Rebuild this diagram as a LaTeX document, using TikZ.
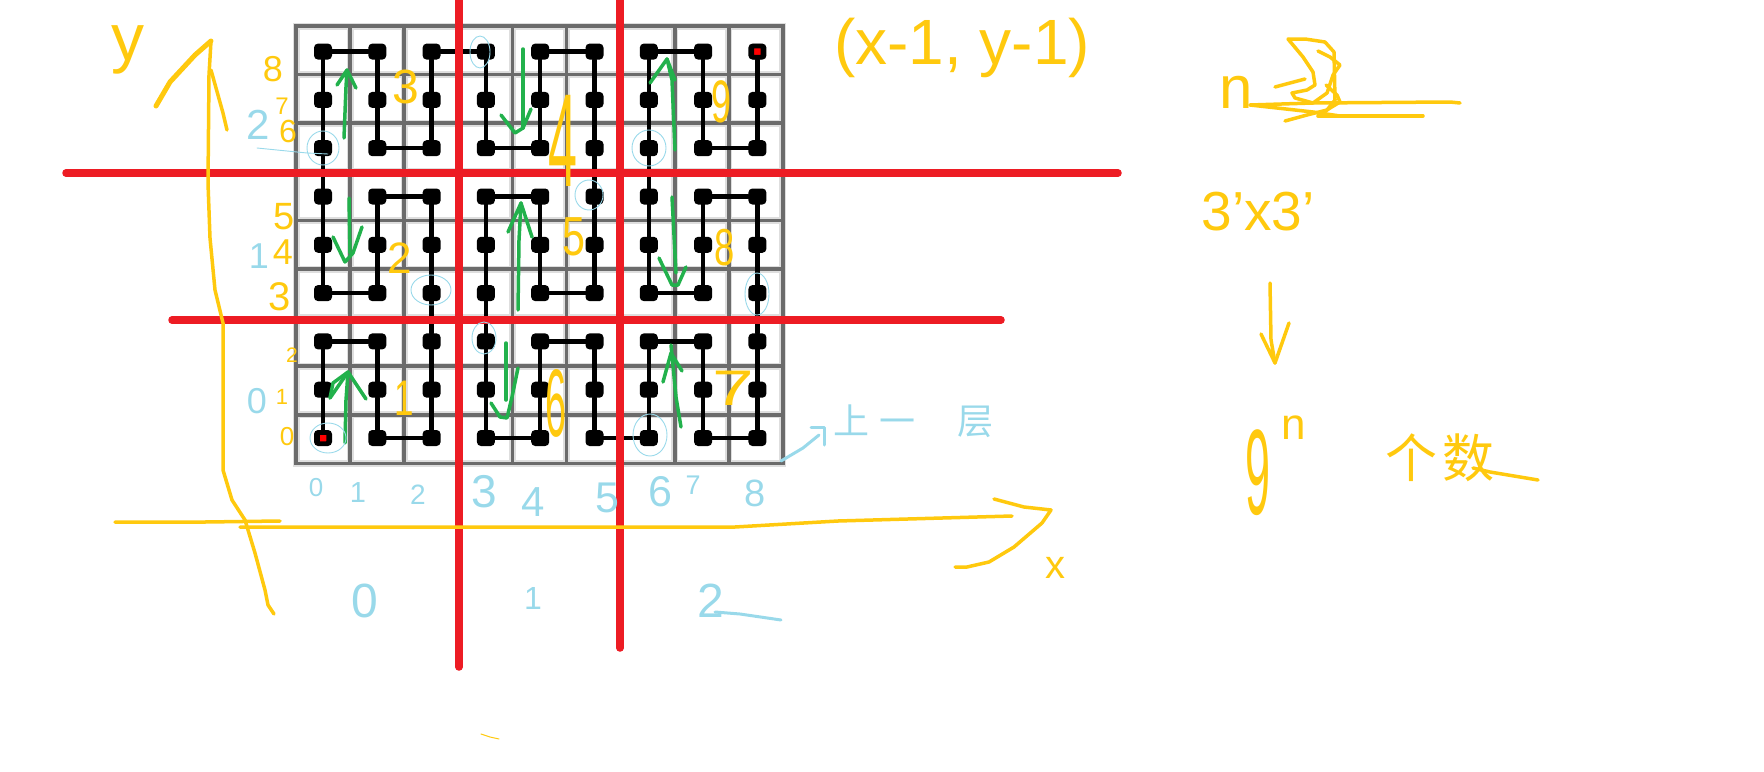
\documentclass[tikz,border=0pt]{standalone}
\usepackage{xcolor}
\usepackage{fontspec}
\usepackage{tikz}
\setmainfont{Liberation Sans}
\newfontfamily\cjkink{Noto Sans CJK SC}
\newcommand{\inksize}[1]{\fontsize{#1}{#1}\selectfont}
\definecolor{inkyellow}{HTML}{FFC90E}
\definecolor{inkred}{HTML}{ED1C24}
\definecolor{inkgreen}{HTML}{22B14C}
\definecolor{inkblue}{HTML}{99D9EA}

\begin{document}
\begin{tikzpicture}[
    x=1pt, y=-1pt,
    line join=round, line cap=round,
    gridhalo/.style={line width=7pt, color=black!13, line cap=butt},
    gridline/.style={line width=3.6pt, color=black!58, line cap=butt},
    curve/.style={line width=4.5pt, color=black},
    dot/.style={rectangle, rounded corners=4pt, fill=black, minimum width=18pt,
                minimum height=16pt, inner sep=0pt},
    enddot/.style={rectangle, rounded corners=2pt, draw=black, line width=4.5pt, fill=red,
                   minimum size=11pt, inner sep=0pt},
    redline/.style={line width=7.5pt, color=inkred},
    yellowpen/.style={line width=3.5pt, color=inkyellow},
    greenpen/.style={line width=3.5pt, color=inkgreen},
    bluepen/.style={line width=3pt, color=inkblue},
    bluethin/.style={line width=0.9pt, color=inkblue},
    yellowtext/.style={text=inkyellow, inner sep=0pt},
    bluetext/.style={text=inkblue, inner sep=0pt}
]
\useasboundingbox (0,0) rectangle (1764,771);

\foreach \i in {0,...,9} {
    \draw[gridhalo] ({296+54.1*\i},26) -- ({296+54.1*\i},464);
    \draw[gridhalo] (293,{26+48.6*\i}) -- (786,{26+48.6*\i});
}
\foreach \i in {0,...,9} {
    \draw[gridline] ({296+54.1*\i},26) -- ({296+54.1*\i},462);
    \draw[gridline] (294,{26+48.6*\i}) -- (785,{26+48.6*\i});
}

\foreach \i in {0,...,8} {
    \foreach \j in {0,...,8} {
        \node[dot] (d\i\j) at ({323+54.3*\i},{438-48.3*\j}) {};
    }
}
\foreach \c [remember=\c as \p (initially 00)] in {01,02,12,11,10,20,21,22,23,24,25,15,14,13,03,04,05,06,07,08,18,17,16,26,27,28,
    38,37,36,46,47,48,58,57,56,55,54,53,43,44,45,35,34,33,32,31,30,40,41,42,52,51,50,60,61,62,72,71,70,80,81,82,
    83,84,85,75,74,73,63,64,65,66,67,68,78,77,76,86,87,88} {
    \draw[curve] (d\p) -- (d\c);
}
\node[enddot] (startdot) at (d00) {};
\node[enddot] (enddot) at (d88) {};

\draw[redline] (66,173) -- (1118,173);
\draw[redline] (172,320) -- (1001,320);
\draw[redline] (459,0) -- (459,667);
\draw[redline] (620,0) -- (620,648);

\draw[yellowpen] (211,41) -- (209,75) -- (208,183) -- (210,238) -- (215,290) -- (223,323) -- (223,470) -- (226,480)
    -- (232,500) -- (245,520) -- (255,553) -- (265,590) -- (268,605) -- (274,614);
\draw[yellowpen] (211,70) -- (223,113) -- (227,130);
\draw[yellowpen, line width=5pt] (211,41) -- (195,55) -- (170,82) -- (156,106);
\draw[yellowpen] (115,522) -- (205,522) -- (280,521);
\draw[yellowpen] (240,527) -- (735,527) -- (838,521) -- (1012,516);
\draw[yellowpen] (994,499) -- (1024,507) -- (1051,510) -- (1042,523) -- (1014,547) -- (989,562) -- (967,567) -- (955,567);

\draw[greenpen] (345,443) -- (346,400) -- (348,372) -- (333,383) -- (330,398);
\draw[greenpen] (330,398) -- (348,372) -- (366,399);
\draw[greenpen] (349,198) -- (350,253);
\draw[greenpen] (333,237) -- (345,262) -- (353,253) -- (362,227);
\draw[greenpen] (344,138) -- (346,87) -- (347,70) -- (337,85);
\draw[greenpen] (347,70) -- (356,88);
\draw[greenpen] (523,49) -- (523,128);
\draw[greenpen] (501,115) -- (515,133) -- (523,128) -- (531,109);
\draw[greenpen] (518,310) -- (519,240) -- (521,203) -- (508,232);
\draw[greenpen] (521,203) -- (532,237);
\draw[greenpen] (506,343) -- (506,400);
\draw[greenpen] (491,403) -- (500,417) -- (507,418) -- (512,397) -- (518,368);
\draw[greenpen] (681,427) -- (676,397) -- (671,345);
\draw[greenpen] (663,382) -- (671,353) -- (682,371);
\draw[greenpen] (672,197) -- (676,273);
\draw[greenpen] (659,258) -- (672,285) -- (678,285) -- (686,267);
\draw[greenpen] (675,150) -- (672,80) -- (667,59) -- (650,83);
\draw[greenpen] (667,59) -- (675,80);

\foreach \x/\y/\rx/\ry in {323/148/16/17, 328/438/18/15, 480/52/10/16, 431/290/20/15,
    484/338/12/16, 649/148/17/18, 589/195/14/15, 757/294/12/21, 650/435/17/21} {
    \draw[bluethin] (\x,\y) ellipse [x radius=\rx pt, y radius=\ry pt];
}
\draw[bluethin] (257,148) -- (307,153) -- (328,154);
\draw[bluepen] (715,612) -- (740,614) -- (781,620);
\draw[bluepen] (781,461) -- (803,448) -- (819,435);
\draw[bluepen] (811,427) -- (824,427) -- (824,445);

\foreach \d/\x/\y/\s in {0/316/488/26, 1/358/493/29, 2/418/495/28, 3/484/492/46, 4/533/502/42,
    5/607/498/43, 6/660/492/43, 7/693/485/27, 8/755/493/38, 0/365/601/48, 1/533/598/32} {
    \node[bluetext, font=\inksize{\s}] (bx\x) at (\x,\y) {\d};
}
\node[bluetext, font=\inksize{48}] (blocktwo) at (711,601) {2};
\node[bluetext, font=\inksize{42}] (lefttwo) at (258,125) {2};
\node[bluetext, font=\inksize{36}] (leftone) at (259,256) {1};
\node[bluetext, font=\inksize{36}] (leftzero) at (257,401) {0};
\node[bluetext, anchor=west, font=\cjkink\inksize{36}] (layer) at (833,421) {上\hspace{10pt}一\hspace{42pt}层};

\foreach \d/\x/\y/\s in {8/273/69/36, 7/282/106/24, 6/288/131/32, 5/284/217/38, 4/283/252/36,
    3/280/297/40, 2/292/355/21, 1/282/397/22, 0/287/437/26} {
    \node[yellowtext, font=\inksize{\s}] (ly\y) at (\x,\y) {\d};
}

\node[yellowtext, font=\inksize{50}, xscale=0.7, transform shape] (blockone) at (404,398) {1};
\node[yellowtext, font=\inksize{44}] (blocktwoy) at (400,258) {2};
\node[yellowtext, font=\inksize{48}] (blockthree) at (406,87) {3};
\node[yellowtext, font=\inksize{52}, yscale=2.55, transform shape] (blockfour) at (563,141) {4};
\node[yellowtext, font=\inksize{55}, xscale=0.75, transform shape] (blockfive) at (574,237) {5};
\node[yellowtext, font=\inksize{40}, xscale=0.95, yscale=2.4, transform shape] (blocksix) at (556,403) {6};
\node[yellowtext, font=\inksize{50}, xscale=1.5, transform shape] (blockseven) at (733,388) {7};
\node[yellowtext, font=\inksize{52}, xscale=0.7, transform shape] (blockeight) at (725,248) {8};
\node[yellowtext, font=\inksize{60}, xscale=0.6, transform shape] (blocknine) at (722,102) {9};

\node[yellowtext, font=\inksize{66}] (yaxis) at (128,50) {y};
\node[yellowtext, font=\inksize{40}] (xaxis) at (1055,568) {x};
\node[yellowtext, font=\inksize{64}] (cell) at (962,48) {(x-1, y-1)};
\node[yellowtext, font=\inksize{60}] (n) at (1236,92) {n};
\node[yellowtext, font=\inksize{55}] (size) at (1258,212) {3'x3'};
\node[yellowtext, font=\inksize{45}, yscale=2.7, transform shape] (nine) at (1258,473) {9};
\node[yellowtext, font=\inksize{44}] (power) at (1294,428) {n};
\node[yellowtext, font=\cjkink\inksize{52}] (count) at (1440,458) {个\hspace{6pt}数};

\draw[yellowpen] (1250,105) -- (1313,103) -- (1450,102) -- (1460,103);
\draw[yellowpen] (1318,116) -- (1423,116);
\draw[yellowpen] (1250,105) -- (1313,112) -- (1340,116);
\draw[yellowpen] (1288,39) -- (1305,39) -- (1325,42) -- (1334,52) -- (1335,100) -- (1327,110) -- (1307,115) -- (1285,121);
\draw[yellowpen] (1288,39) -- (1303,57) -- (1313,72) -- (1315,85) -- (1307,90) -- (1292,93) -- (1295,98) -- (1313,103)
    -- (1327,93) -- (1333,75) -- (1340,65) -- (1330,57) -- (1318,51);
\draw[yellowpen] (1326,85) -- (1337,95) -- (1340,102) -- (1330,108) -- (1318,116);
\draw[yellowpen] (1275,87) -- (1305,79);
\draw[yellowpen] (1270,283) -- (1271,340) -- (1275,363) -- (1261,334);
\draw[yellowpen] (1275,363) -- (1289,323);
\draw[yellowpen] (1473,468) -- (1490,472) -- (1538,480);
\draw[yellowpen, line width=1pt] (481,734) -- (490,737) -- (499,739);
\end{tikzpicture}
\end{document}
